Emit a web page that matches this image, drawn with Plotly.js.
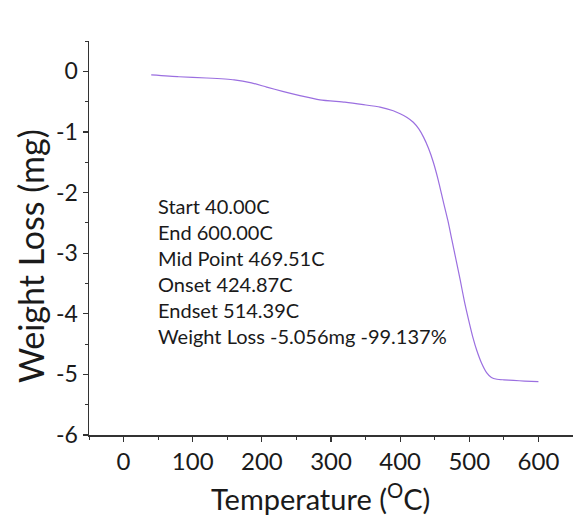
<!DOCTYPE html>
<html>
<head>
<meta charset="utf-8">
<script src="https://cdn.plot.ly/plotly-3.0.1.min.js"></script>
<style>
  html, body { margin: 0; padding: 0; background: #fff; }
  #chart { width: 573px; height: 518px; }
</style>
</head>
<body>
<div id="chart"></div>
<script>
// TGA curve: sample weight change vs. temperature
const temperatureC = [40, 80, 120, 160, 185, 207, 230, 255, 284, 320, 347, 371, 390, 400, 410, 419,
  427, 434, 441, 448, 455, 462, 469, 475, 481, 487, 493, 499, 505, 511, 518, 525, 532, 540, 550,
  564, 580, 600];
const weightLossMg = [-0.06, -0.09, -0.11, -0.14, -0.19, -0.26, -0.33, -0.40, -0.47, -0.51, -0.55,
  -0.59, -0.65, -0.70, -0.76, -0.84, -0.95, -1.09, -1.27, -1.50, -1.79, -2.13, -2.46, -2.79, -3.12,
  -3.45, -3.80, -4.10, -4.38, -4.61, -4.82, -4.97, -5.05, -5.08, -5.09, -5.10, -5.11, -5.12];

const xTicks = [0, 100, 200, 300, 400, 500, 600];
const yTicks = [0, -1, -2, -3, -4, -5, -6];

const resultLines = [
  'Start 40.00C',
  'End 600.00C',
  'Mid Point 469.51C',
  'Onset 424.87C',
  'Endset 514.39C',
  'Weight Loss -5.056mg -99.137%'
];

const FONT = 'Lato, "Open Sans", sans-serif';
const INK = '#1a1a1a';

const trace = {
  x: temperatureC,
  y: weightLossMg,
  type: 'scatter',
  mode: 'lines',
  line: { color: '#9b6fe0', width: 1.2, shape: 'spline', smoothing: 0.6 },
  hoverinfo: 'x+y'
};

const layout = {
  width: 573,
  height: 518,
  margin: { l: 89, r: 0, t: 41, b: 83 },
  paper_bgcolor: '#ffffff',
  plot_bgcolor: '#ffffff',
  showlegend: false,
  font: { family: FONT, color: INK },
  xaxis: {
    range: [-50, 650],
    tickvals: xTicks,
    ticktext: xTicks.map(String),
    ticks: 'outside',
    ticklen: 5,
    tickwidth: 1.2,
    tickcolor: '#333',
    minor: { dtick: 50, tick0: 50, ticks: 'outside', ticklen: 3, tickwidth: 1, tickcolor: '#333' },
    showline: true,
    linecolor: '#333',
    linewidth: 1.5,
    showgrid: false,
    zeroline: false,
    tickfont: { family: FONT, size: 24, color: INK },
    automargin: false
  },
  yaxis: {
    range: [-6, 0.5],
    tickvals: yTicks,
    ticktext: yTicks.map(String),
    ticks: 'outside',
    ticklen: 5,
    tickwidth: 1.2,
    tickcolor: '#333',
    minor: { dtick: 0.5, tick0: 0.5, ticks: 'outside', ticklen: 3, tickwidth: 1, tickcolor: '#333' },
    showline: true,
    linecolor: '#333',
    linewidth: 1.5,
    showgrid: false,
    zeroline: false,
    tickfont: { family: FONT, size: 23, color: INK },
    automargin: false
  },
  annotations: [
    {
      // x-axis title, set slightly left of the plot centre
      xref: 'paper', yref: 'paper',
      x: 0.478, y: -0.158,
      xanchor: 'center', yanchor: 'middle',
      showarrow: false,
      text: 'Temperature (<sup>O</sup>C)',
      font: { family: FONT, size: 29, color: INK }
    },
    {
      // y-axis title, set slightly below the plot centre
      xref: 'paper', yref: 'paper',
      x: -0.122, y: 0.454,
      xanchor: 'center', yanchor: 'middle',
      textangle: -90,
      showarrow: false,
      text: 'Weight Loss (mg)',
      font: { family: FONT, size: 34, color: INK }
    },
    {
      xref: 'x', yref: 'y',
      x: 47, y: -1.99,
      xanchor: 'left', yanchor: 'top',
      align: 'left',
      showarrow: false,
      text: resultLines.join('<br>'),
      font: { family: FONT, size: 20, color: INK }
    }
  ]
};

Plotly.newPlot('chart', [trace], layout, { displayModeBar: false, staticPlot: true });
</script>
</body>
</html>
